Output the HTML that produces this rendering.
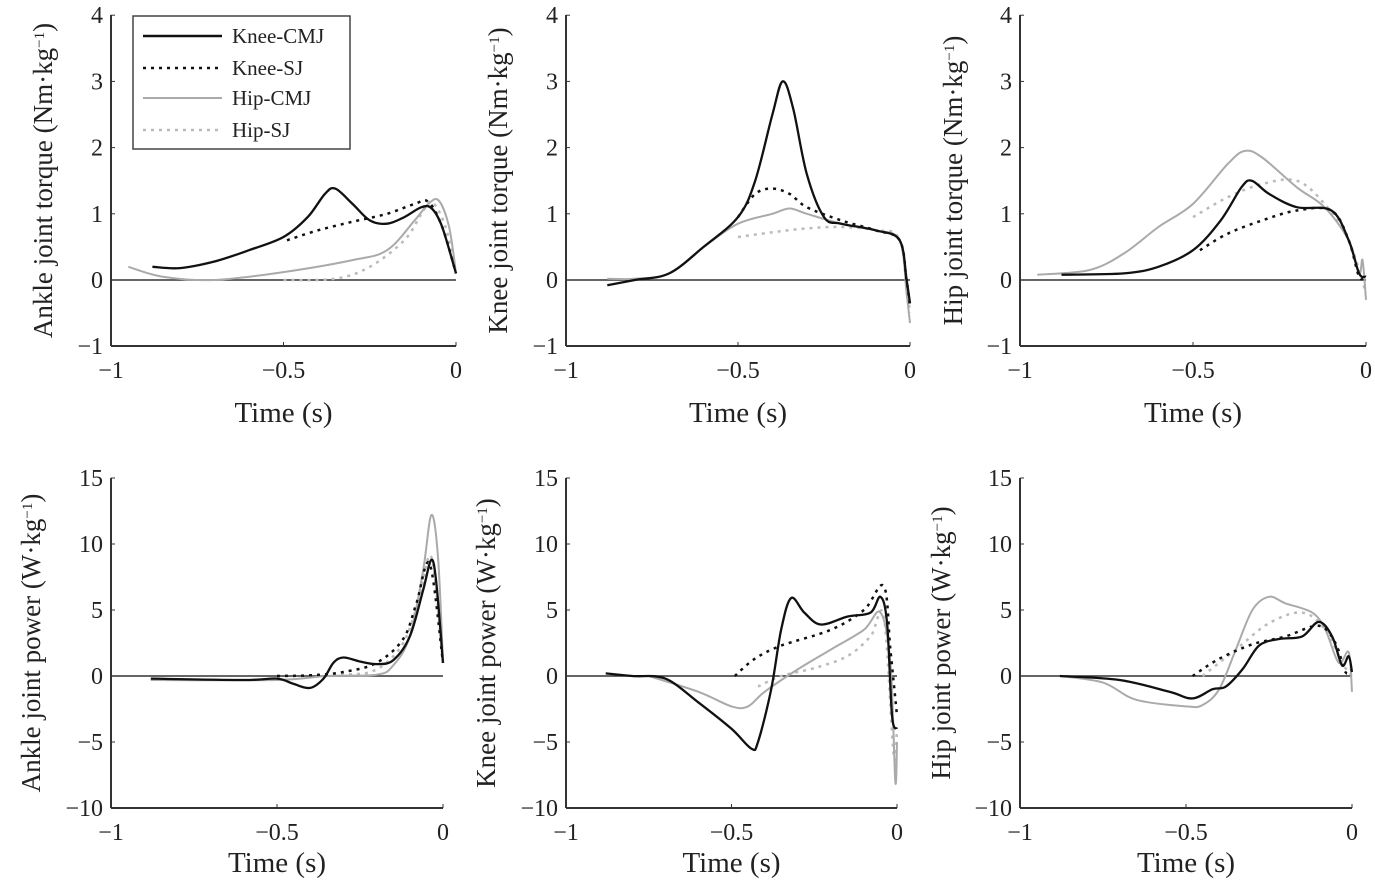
<!DOCTYPE html>
<html><head><meta charset="utf-8"><style>
body{margin:0;background:#fff}
svg text{font-family:"Liberation Serif",serif;fill:#222}
</style></head><body>
<svg id="s" width="1375" height="885" xmlns="http://www.w3.org/2000/svg">
<g id="g"></g>
<rect x="133" y="16" width="217" height="133" fill="#fff" stroke="#444" stroke-width="1.5"/>
<line x1="143" y1="36" x2="222" y2="36" stroke="#111" stroke-width="2.5"/>
<line x1="143" y1="68" x2="222" y2="68" stroke="#111" stroke-width="2.5" stroke-dasharray="3,5"/>
<line x1="143" y1="98" x2="222" y2="98" stroke="#aaa" stroke-width="2"/>
<line x1="143" y1="130" x2="222" y2="130" stroke="#bbb" stroke-width="2.5" stroke-dasharray="3,5"/>
<text x="232" y="43" font-size="21">Knee-CMJ</text>
<text x="232" y="75" font-size="21">Knee-SJ</text>
<text x="232" y="105" font-size="21">Hip-CMJ</text>
<text x="232" y="137" font-size="21">Hip-SJ</text>
</svg>
<script>
(function(){
const NS="http://www.w3.org/2000/svg",G=document.getElementById('g');
function el(t,a,txt){const e=document.createElementNS(NS,t);for(const k in a)e.setAttribute(k,a[k]);if(txt!==undefined)e.innerHTML=txt;G.appendChild(e);return e;}
function smooth(p){let d='M'+p[0][0].toFixed(1)+','+p[0][1].toFixed(1);for(let i=0;i<p.length-1;i++){const p0=p[i-1]||p[i],p1=p[i],p2=p[i+1],p3=p[i+2]||p2;const c1=[p1[0]+(p2[0]-p0[0])/6,p1[1]+(p2[1]-p0[1])/6],c2=[p2[0]-(p3[0]-p1[0])/6,p2[1]-(p3[1]-p1[1])/6];d+='C'+c1.map(v=>v.toFixed(1))+' '+c2.map(v=>v.toFixed(1))+' '+p2.map(v=>v.toFixed(1));}return d;}
const styles=[{stroke:'#111','stroke-width':2.3},{stroke:'#111','stroke-width':2.5,'stroke-dasharray':'3,5'},{stroke:'#aaa','stroke-width':2},{stroke:'#bbb','stroke-width':2.5,'stroke-dasharray':'3,5'}];
function panel(o){
 const X=t=>o.x0+(t+1)*(o.x1-o.x0),Y=v=>o.yz-(v)*o.k;
 el('line',{x1:o.x0,y1:o.yt,x2:o.x0,y2:o.yb,stroke:'#333','stroke-width':2});
 el('line',{x1:o.x0,y1:o.yb,x2:o.x1,y2:o.yb,stroke:'#333','stroke-width':2});
 el('line',{x1:o.x0,y1:o.yz,x2:o.x1,y2:o.yz,stroke:'#333','stroke-width':1.5});
 o.yticks.forEach(v=>{el('text',{x:o.x0-8,y:Y(v)+8,'font-size':24,'text-anchor':'end'},String(v).replace('-','−'));el('line',{x1:o.x0,y1:Y(v),x2:o.x0+4,y2:Y(v),stroke:'#333'});});
 [-1,-0.5,0].forEach(t=>{el('text',{x:X(t),y:o.yb+32,'font-size':24,'text-anchor':'middle'},String(t).replace('-','−'));el('line',{x1:X(t),y1:o.yb,x2:X(t),y2:o.yb-4,stroke:'#333'});});
 el('text',{x:(o.x0+o.x1)/2,y:o.tl,'font-size':29,'text-anchor':'middle'},'Time (s)');
 const cy=(o.yt+o.yb)/2;
 el('text',{x:o.lx,y:cy,'font-size':27,'text-anchor':'middle',transform:'rotate(-90 '+o.lx+' '+cy+')'},o.lab);
 [3,2,1,0].forEach(i=>{const p=o.s[i].map(q=>[X(q[0]),Y(q[1])]);el('path',Object.assign({d:smooth(p),fill:'none'},styles[i]));});
}
const sup='<tspan baseline-shift="super" font-size="15">−1</tspan>)';
const TOPP={yt:15,yb:346,yz:280,k:66.2,yticks:[4,3,2,1,0,-1],tl:422};
const BOTP={yt:478,yb:808,yz:676,k:13.2,yticks:[15,10,5,0,-5,-10],tl:872};
panel(Object.assign({},TOPP,{x0:111,x1:456,lx:52,lab:'Ankle joint torque (Nm·kg'+sup,s:[
[[-0.88,0.2],[-0.8,0.18],[-0.7,0.28],[-0.6,0.45],[-0.5,0.65],[-0.43,0.95],[-0.38,1.3],[-0.35,1.38],[-0.3,1.15],[-0.25,0.9],[-0.2,0.85],[-0.15,0.95],[-0.1,1.1],[-0.07,1.08],[-0.04,0.8],[0,0.1]],
[[-0.49,0.6],[-0.4,0.75],[-0.3,0.88],[-0.2,1.0],[-0.12,1.15],[-0.08,1.18],[-0.04,0.8],[0,0.1]],
[[-0.95,0.2],[-0.85,0.05],[-0.7,0],[-0.5,0.12],[-0.3,0.3],[-0.2,0.45],[-0.12,0.9],[-0.08,1.15],[-0.05,1.2],[-0.02,0.8],[0,0.1]],
[[-0.5,0],[-0.35,0.02],[-0.25,0.2],[-0.15,0.6],[-0.1,1.0],[-0.07,1.18],[-0.03,0.8],[0,0.1]]]}));
panel(Object.assign({},TOPP,{x0:566,x1:910,lx:507,lab:'Knee joint torque (Nm·kg'+sup,s:[
[[-0.88,-0.08],[-0.8,0],[-0.7,0.1],[-0.6,0.5],[-0.5,0.95],[-0.45,1.5],[-0.4,2.5],[-0.37,3.0],[-0.34,2.6],[-0.3,1.6],[-0.25,0.95],[-0.2,0.85],[-0.1,0.75],[-0.03,0.6],[-0.01,0],[0,-0.35]],
[[-0.5,0.95],[-0.45,1.3],[-0.4,1.38],[-0.35,1.3],[-0.3,1.1],[-0.2,0.9],[-0.1,0.75],[-0.03,0.6],[-0.01,0],[0,-0.4]],
[[-0.88,0.02],[-0.8,0.02],[-0.7,0.1],[-0.6,0.5],[-0.5,0.85],[-0.4,1.0],[-0.35,1.08],[-0.3,1.0],[-0.2,0.85],[-0.1,0.75],[-0.03,0.6],[-0.01,-0.2],[0,-0.65]],
[[-0.5,0.65],[-0.4,0.72],[-0.3,0.78],[-0.2,0.8],[-0.1,0.75],[-0.03,0.6],[0,-0.5]]]}));
panel(Object.assign({},TOPP,{x0:1020,x1:1366,lx:962,lab:'Hip joint torque (Nm·kg'+sup,s:[
[[-0.88,0.08],[-0.7,0.1],[-0.6,0.2],[-0.5,0.45],[-0.42,0.9],[-0.36,1.4],[-0.33,1.5],[-0.28,1.3],[-0.2,1.1],[-0.1,1.05],[-0.05,0.6],[-0.02,0.1],[0,0.05]],
[[-0.48,0.45],[-0.4,0.7],[-0.3,0.9],[-0.2,1.05],[-0.1,1.05],[-0.05,0.6],[-0.02,0.05],[0,0.05]],
[[-0.95,0.08],[-0.8,0.15],[-0.7,0.4],[-0.6,0.8],[-0.5,1.15],[-0.4,1.75],[-0.35,1.95],[-0.3,1.85],[-0.2,1.4],[-0.12,1.1],[-0.05,0.6],[-0.02,0.1],[-0.01,0.3],[0,-0.3]],
[[-0.5,0.95],[-0.4,1.25],[-0.3,1.45],[-0.2,1.5],[-0.12,1.15],[-0.05,0.6],[0,-0.2]]]}));
panel(Object.assign({},BOTP,{x0:111,x1:443,lx:40,lab:'Ankle joint power (W·kg'+sup,s:[
[[-0.88,-0.2],[-0.6,-0.3],[-0.5,-0.2],[-0.45,-0.6],[-0.4,-0.9],[-0.36,-0.2],[-0.33,1.0],[-0.3,1.4],[-0.25,1.1],[-0.2,0.9],[-0.15,1.2],[-0.1,3],[-0.06,6.5],[-0.035,8.8],[-0.02,7],[0,1]],
[[-0.5,0],[-0.4,0.05],[-0.3,0.3],[-0.2,1.0],[-0.12,2.8],[-0.08,5.5],[-0.04,8.5],[0,1]],
[[-0.88,-0.3],[-0.5,-0.3],[-0.35,0],[-0.2,0.1],[-0.15,0.8],[-0.1,3],[-0.06,8],[-0.035,12.2],[-0.015,9],[0,1]],
[[-0.5,0],[-0.3,0.1],[-0.2,0.5],[-0.12,2.5],[-0.07,6],[-0.035,9],[0,1]]]}));
panel(Object.assign({},BOTP,{x0:566,x1:897,lx:495,lab:'Knee joint power (W·kg'+sup,s:[
[[-0.88,0.2],[-0.8,0],[-0.7,-0.2],[-0.6,-2],[-0.5,-4],[-0.44,-5.5],[-0.42,-5],[-0.38,-1],[-0.35,3.5],[-0.32,5.9],[-0.28,4.8],[-0.23,3.9],[-0.15,4.5],[-0.08,4.8],[-0.05,6],[-0.03,4],[-0.015,-3],[0,-4]],
[[-0.49,0],[-0.43,1.3],[-0.35,2.3],[-0.2,3.5],[-0.1,5],[-0.04,6.8],[-0.02,2],[0,-3]],
[[-0.75,0],[-0.6,-1.2],[-0.5,-2.3],[-0.45,-2.3],[-0.4,-1.2],[-0.3,0.5],[-0.2,2],[-0.1,3.5],[-0.05,4.8],[-0.02,1],[-0.005,-8],[0,-5]],
[[-0.42,-0.8],[-0.35,0],[-0.25,0.6],[-0.15,1.5],[-0.08,3],[-0.04,4.5],[-0.01,-6],[0,-4]]]}));
panel(Object.assign({},BOTP,{x0:1020,x1:1352,lx:950,lab:'Hip joint power (W·kg'+sup,s:[
[[-0.88,0],[-0.7,-0.3],[-0.55,-1.2],[-0.48,-1.7],[-0.42,-1],[-0.38,-0.8],[-0.33,0.5],[-0.28,2.3],[-0.22,2.8],[-0.15,3],[-0.1,4.1],[-0.06,3],[-0.03,0.8],[-0.01,1.5],[0,0.3]],
[[-0.48,0],[-0.4,1.3],[-0.3,2.4],[-0.2,3],[-0.1,3.8],[-0.05,2.5],[-0.02,0.3],[0,0.5]],
[[-0.88,0],[-0.75,-0.5],[-0.65,-1.8],[-0.5,-2.3],[-0.45,-2.2],[-0.4,-1],[-0.35,2],[-0.3,5],[-0.25,6],[-0.2,5.5],[-0.12,4.8],[-0.08,3.5],[-0.04,1],[-0.01,1.8],[0,-1.2]],
[[-0.45,0],[-0.35,2],[-0.25,4],[-0.15,4.8],[-0.08,3.5],[-0.03,1],[0,0]]]}));
})();
</script>
</body></html>
